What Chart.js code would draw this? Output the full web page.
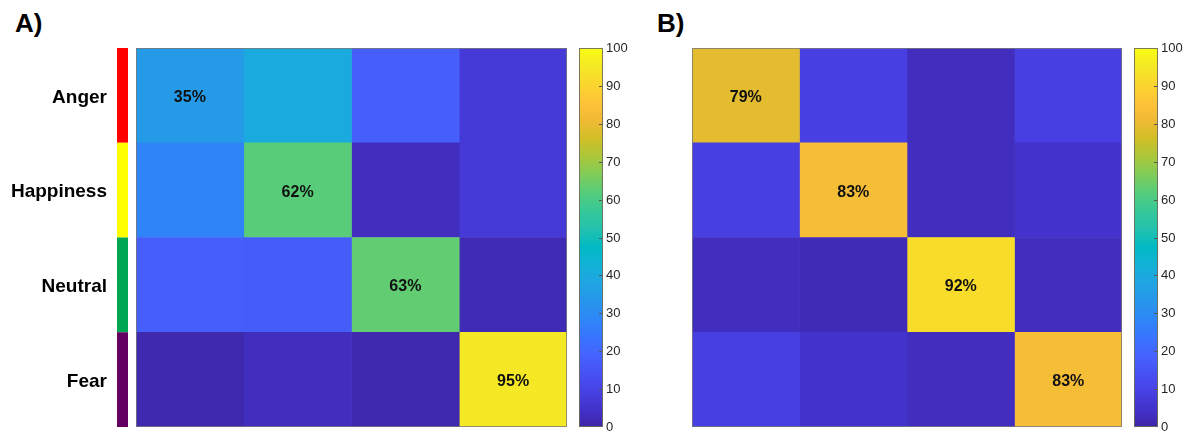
<!DOCTYPE html>
<html>
<head>
<meta charset="utf-8">
<script src="https://cdn.jsdelivr.net/npm/chart.js@4.4.1/dist/chart.umd.min.js"></script>
<style>
  body { margin: 0; background: #fff; }
  #wrap { position: relative; width: 1194px; height: 434px; overflow: hidden; font-family: "Liberation Sans", Arial, sans-serif; }
  #wrap canvas { position: absolute; top: 0; }
  .panel-tag { position: absolute; top: 8px; font: bold 26px "Liberation Sans", Arial, sans-serif; color: #000; }
</style>
</head>
<body>
<div id="wrap">
  <div class="panel-tag" style="left:15px">A)</div>
  <div class="panel-tag" style="left:657px">B)</div>
  <canvas id="heatA"></canvas>
  <canvas id="barA"></canvas>
  <canvas id="heatB"></canvas>
  <canvas id="barB"></canvas>
</div>
<script>
// --- data (percent, rows = true class, cols = predicted) ---
const classes     = ['Anger', 'Happiness', 'Neutral', 'Fear'];
const classColors = ['#ff0000', '#ffff00', '#00a651', '#640060'];

const matrixA = [
  [35, 40, 18,  7],
  [28, 62,  3,  7],
  [18, 17, 63,  2],
  [ 1,  3,  1, 95]
];
const matrixB = [
  [79,  9,  3,  9],
  [ 9, 83,  3,  5],
  [ 3,  2, 92,  3],
  [ 9,  5,  3, 83]
];
const cbarTicks = [0, 10, 20, 30, 40, 50, 60, 70, 80, 90, 100];

// parula colormap, sampled every 3rd entry of the 64-colour table
const parula = ['#3e26a8','#4332cb','#4741e5','#4852f4','#4563fd','#3875fe','#2e87f7','#2796eb',
                '#20a5e3','#12b1d6','#02bac3','#24c1ae','#37c897','#57cc7a','#81cc59','#abc739',
                '#d1bf27','#f0ba36','#fec338','#fad62d','#f5e924','#f9fb15'];

function hexRgb(h) {
    return [parseInt(h.slice(1, 3), 16), parseInt(h.slice(3, 5), 16), parseInt(h.slice(5, 7), 16)];
}
function cmap(v) {
    const t = Math.max(0, Math.min(1, v / 100)) * (parula.length - 1);
    const i = Math.min(Math.floor(t), parula.length - 2);
    const f = t - i;
    const a = hexRgb(parula[i]), b = hexRgb(parula[i + 1]);
    const c = a.map((x, k) => Math.round(x + (b[k] - x) * f));
    return `rgb(${c[0]},${c[1]},${c[2]})`;
}

const FONT = '"Liberation Sans", Arial, sans-serif';

function sizeCanvas(id, left, w, h) {
    const c = document.getElementById(id);
    c.style.left = left + 'px';
    c.width = w; c.height = h;
    c.style.width = w + 'px'; c.style.height = h + 'px';
    return c;
}

// row labels + strip of class colours + frame + diagonal percentages
const heatPlugin = {
    id: 'heatDeco',
    afterDatasetsDraw(chart, args, opts) {
        const ctx = chart.ctx, area = chart.chartArea, ys = chart.scales.y;
        const step = (area.bottom - area.top) / classes.length;
        ctx.save();
        if (opts.rowLabels) {
            ctx.font = 'bold 19px ' + FONT;
            ctx.textAlign = 'right';
            ctx.textBaseline = 'middle';
            classes.forEach((name, i) => {
                const yc = ys.getPixelForValue(i);
                ctx.fillStyle = '#000';
                ctx.fillText(name, area.left - 29, yc + 2);
                ctx.fillStyle = classColors[i];
                ctx.fillRect(area.left - 19, yc - step / 2, 11, step);
            });
        }
        ctx.font = 'bold 16px ' + FONT;
        ctx.fillStyle = '#111';
        ctx.textAlign = 'center';
        ctx.textBaseline = 'middle';
        opts.matrix.forEach((row, i) => {
            const el = chart.getDatasetMeta(i).data[i];
            ctx.fillText(row[i] + '%', (el.x + el.base) / 2, el.y + 2);
        });
        ctx.strokeStyle = 'rgba(120,120,120,0.8)';
        ctx.lineWidth = 1;
        ctx.strokeRect(area.left + 0.5, area.top + 0.5, area.right - area.left - 1, area.bottom - area.top - 1);
        ctx.restore();
    }
};

function makeHeatmap(id, left, width, padLeft, matrix, withLabels) {
    const canvas = sizeCanvas(id, left, width, 434);
    const datasets = classes.map((_, j) => ({
        data: classes.map(() => 1),
        backgroundColor: matrix.map(row => cmap(row[j])),
        borderWidth: 0,
        categoryPercentage: 1,
        barPercentage: 1
    }));
    return new Chart(canvas, {
        type: 'bar',
        data: { labels: classes, datasets: datasets },
        plugins: [heatPlugin],
        options: {
            indexAxis: 'y',
            responsive: false,
            animation: false,
            layout: { padding: { top: 48, bottom: 7, left: padLeft, right: 3 } },
            plugins: {
                legend: { display: false },
                tooltip: { enabled: false },
                heatDeco: { matrix: matrix, rowLabels: withLabels }
            },
            scales: {
                x: { stacked: true, display: false, min: 0, max: classes.length },
                y: { stacked: true, display: false }
            }
        }
    });
}

const cbarPlugin = {
    id: 'cbarTicks',
    afterDatasetsDraw(chart) {
        const ctx = chart.ctx, area = chart.chartArea, ys = chart.scales.y;
        ctx.save();
        ctx.lineWidth = 1;
        ctx.font = '13px ' + FONT;
        ctx.textAlign = 'left';
        ctx.textBaseline = 'middle';
        cbarTicks.forEach(v => {
            const y = Math.round(ys.getPixelForValue(v)) + 0.5;
            ctx.fillStyle = '#262626';
            ctx.fillText(String(v), area.right + 3, y);
            if (v === 0 || v === 100) return;
            ctx.strokeStyle = '#555';
            ctx.beginPath();
            ctx.moveTo(area.right - 4, y);
            ctx.lineTo(area.right, y);
            ctx.stroke();
        });
        ctx.strokeStyle = 'rgba(110,110,90,0.9)';
        ctx.strokeRect(area.left + 0.5, area.top + 0.5, area.right - area.left - 1, area.bottom - area.top - 1);
        ctx.restore();
    }
};

function makeColorbar(id, left) {
    const canvas = sizeCanvas(id, left, 60, 434);
    return new Chart(canvas, {
        type: 'bar',
        data: {
            labels: [''],
            datasets: [{
                data: [[cbarTicks[0], cbarTicks[cbarTicks.length - 1]]],
                categoryPercentage: 1,
                barPercentage: 1,
                borderWidth: 0,
                backgroundColor: c => {
                    const area = c.chart.chartArea;
                    if (!area) return parula[0];
                    const g = c.chart.ctx.createLinearGradient(0, area.bottom, 0, area.top);
                    parula.forEach((col, k) => g.addColorStop(k / (parula.length - 1), col));
                    return g;
                }
            }]
        },
        plugins: [cbarPlugin],
        options: {
            responsive: false,
            animation: false,
            layout: { padding: { top: 48, bottom: 7, left: 0, right: 36 } },
            plugins: { legend: { display: false }, tooltip: { enabled: false } },
            scales: {
                x: { display: false },
                y: { display: false, min: 0, max: 100 }
            }
        }
    });
}

makeHeatmap('heatA', 0, 570, 136, matrixA, true);
makeColorbar('barA', 579);
makeHeatmap('heatB', 692, 433, 0, matrixB, false);
makeColorbar('barB', 1134);
</script>
</body>
</html>
